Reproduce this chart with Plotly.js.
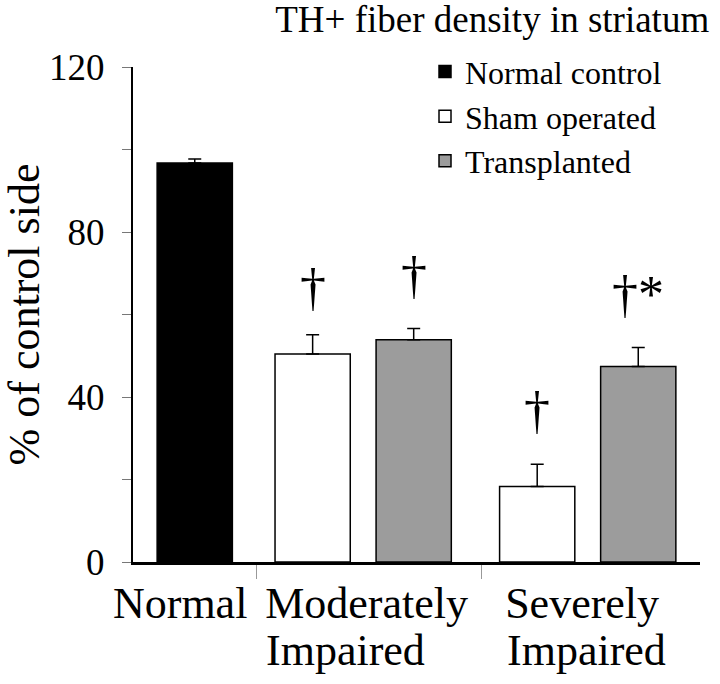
<!DOCTYPE html>
<html>
<head>
<meta charset="utf-8">
<script src="https://cdn.plot.ly/plotly-3.0.1.min.js"></script>
<style>html,body{margin:0;padding:0;background:#fff;}#chart{width:720px;height:684px;}</style>
</head>
<body>
<div id="chart"></div>
<script>
// ---- data ----
const categoryLine1 = ['Normal', 'Moderately', 'Severely'];
const categoryLine2 = ['', 'Impaired', 'Impaired'];
const seriesNames = ['Normal control', 'Sham operated', 'Transplanted'];
const normalControl = [96.7, null, null];
const normalControlErr = [1.0, null, null];
const shamOperated = [null, 50.4, 18.3];
const shamOperatedErr = [null, 4.7, 5.4];
const transplanted = [null, 53.9, 47.4];
const transplantedErr = [null, 2.7, 4.6];
const shamMarks = ['', '\u2020', '\u2020'];
const transplantedMarks = ['', '\u2020', '\u2020*'];
const yTickValues = [0, 20, 40, 60, 80, 100, 120];
const yTickLabels = ['0', '', '40', '', '80', '', '120'];

// ---- layout of groups along the x axis (axis units) ----
const groupStart = [0, 1.1, 3.1];
const labelPos = [0.42, 2.08, 4.0];      // centre of first label line
const labelLeft = [0, 1.17, 3.31];       // left edge of label block (second line is left-aligned)
const barWidth = 0.67;
const seriesOffset = [0.55, 0.5, 1.4];   // position of each series inside its group
const FONT = 'Liberation Serif';

const seriesData = [normalControl, shamOperated, transplanted];
const seriesErr = [normalControlErr, shamOperatedErr, transplantedErr];
const fills = ['#000000', '#ffffff', '#9c9c9c'];

const traces = seriesData.map((vals, s) => {
  const xs = [], ys = [], es = [];
  vals.forEach((v, i) => {
    if (v !== null) { xs.push(groupStart[i] + seriesOffset[s]); ys.push(v); es.push(seriesErr[s][i]); }
  });
  return {
    type: 'bar', name: seriesNames[s], x: xs, y: ys, width: barWidth,
    marker: {color: fills[s], line: {color: '#000', width: 1.5}},
    error_y: {type: 'data', symmetric: false, array: es,
              arrayminus: ys.map(() => 0), color: '#000', thickness: 1.5, width: 6.5}
  };
});

const annotations = [];
[[shamOperated, shamOperatedErr, shamMarks, 1], [transplanted, transplantedErr, transplantedMarks, 2]].forEach(([vals, e, marks, s]) => {
  vals.forEach((v, i) => {
    if (v === null || !marks[i]) return;
    annotations.push({
      x: groupStart[i] + seriesOffset[s], y: v + e[i], xref: 'x', yref: 'y',
      text: marks[i], showarrow: false, yanchor: 'bottom', xanchor: 'center',
      yshift: (s === 1 && i === 1) ? 17 : 23,
      font: {family: FONT, size: 52, color: '#000'}
    });
  });
});
// second line of the category labels
categoryLine2.forEach((t, i) => {
  if (!t) return;
  annotations.push({
    x: labelLeft[i], y: 0, xref: 'x', yref: 'paper', text: t, showarrow: false,
    xanchor: 'left', yanchor: 'top', yshift: -62, align: 'left',
    font: {family: FONT, size: 44, color: '#000'}
  });
});

const dividers = groupStart.slice(1);

const layout = {
  width: 720, height: 684,
  margin: {l: 133, r: 20, t: 67, b: 122},
  paper_bgcolor: '#fff', plot_bgcolor: '#fff',
  showlegend: true,
  font: {family: FONT, color: '#000'},
  title: {text: 'TH+ fiber density in striatum', font: {family: FONT, size: 37, color: '#000'},
          x: 0.985, xanchor: 'right', xref: 'container', y: 0.972, yanchor: 'middle', yref: 'container'},
  xaxis: {
    range: [0, 5.05], showgrid: false, zeroline: false,
    showline: true, linecolor: '#000', linewidth: 3,
    tickmode: 'array', tickvals: labelPos, ticktext: categoryLine1,
    ticks: '', tickfont: {family: FONT, size: 44, color: '#000'},
    minor: {tickmode: 'array', tickvals: dividers, ticks: 'outside', ticklen: 14, tickcolor: '#999', tickwidth: 1},
    fixedrange: true
  },
  yaxis: {
    range: [0, 120], showgrid: false, zeroline: false,
    showline: true, linecolor: '#000', linewidth: 2,
    tickmode: 'array', tickvals: yTickValues, ticktext: yTickLabels,
    ticks: 'outside', ticklen: 9, tickcolor: '#777', tickwidth: 1,
    ticklabelstandoff: 10,
    tickfont: {family: FONT, size: 37, color: '#000'},
    title: {text: '% of control side', font: {family: FONT, size: 44, color: '#000'}, standoff: 10},
    fixedrange: true
  },
  legend: {
    x: 0.515, y: 1.046, xanchor: 'left', yanchor: 'top',
    bgcolor: 'rgba(0,0,0,0)', font: {family: FONT, size: 32, color: '#000'},
    tracegroupgap: 0, itemclick: false
  },
  annotations: annotations,
  bargap: 0
};

Plotly.newPlot('chart', traces, layout, {displayModeBar: false, staticPlot: true});
</script>
</body>
</html>
